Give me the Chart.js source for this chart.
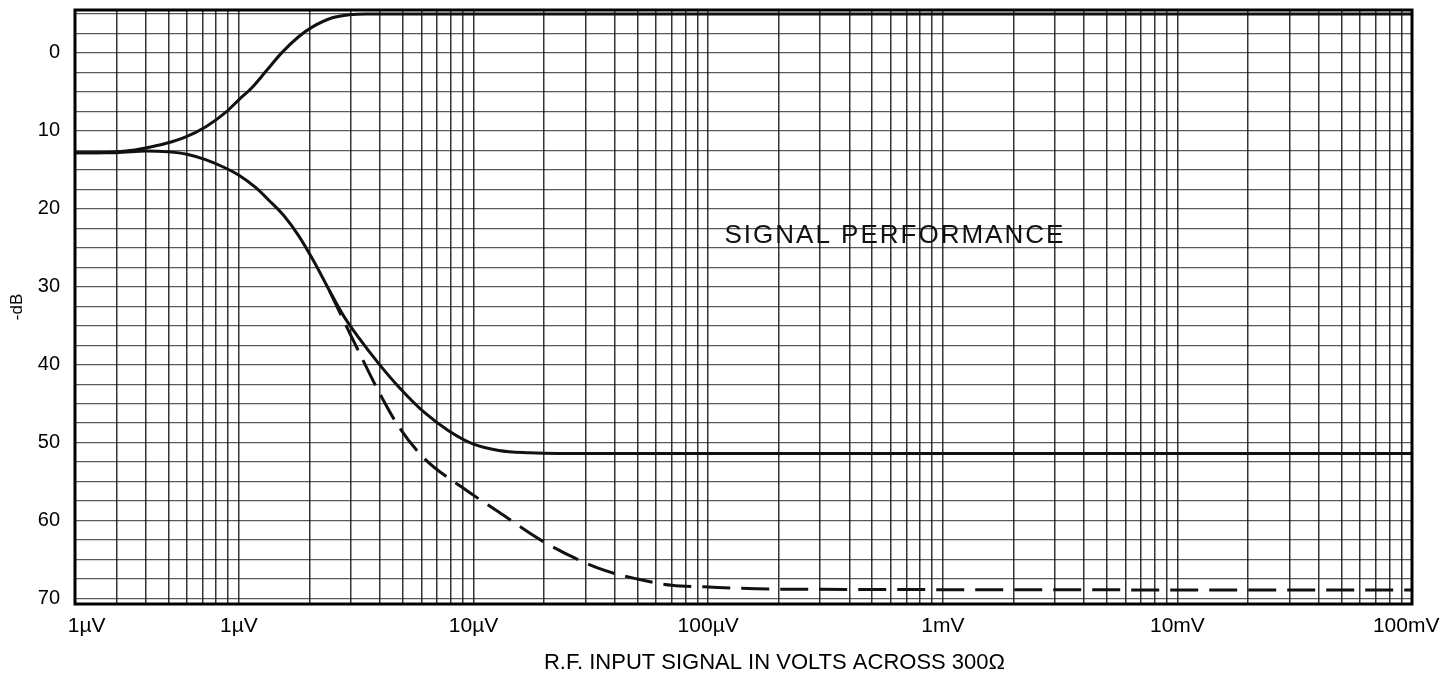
<!DOCTYPE html>
<html>
<head>
<meta charset="utf-8">
<script src="https://cdn.jsdelivr.net/npm/chart.js@4/dist/chart.umd.min.js"></script>
<style>
  html, body { margin: 0; padding: 0; background: #fff; }
  #wrap { width: 1440px; height: 676px; }
</style>
</head>
<body>
<div id="wrap"><canvas id="chart"></canvas></div>
<script>
// x values in µV, y values in -dB
const xTickValues = [0.2, 1, 10, 100, 1000, 10000, 100000];
// the outer labels sit a little inside the frame on the original sheet
const xTickLabels = ['    1µV', '1µV', '10µV', '100µV', '1mV', '10mV', '100mV  '];
const yTickLabels = [0, 10, 20, 30, 40, 50, 60, 70];
const yGridStep = 2.5;

const upperX = [0.2, 0.25, 0.33, 0.4, 0.49, 0.59, 0.72, 0.88, 1.0, 1.14, 1.3, 1.52, 1.8, 2.05, 2.5, 2.95, 3.5, 4.8, 100000];
const upperY = [12.8, 12.8, 12.6, 12.2, 11.6, 10.8, 9.5, 7.6, 6.0, 4.4, 2.4, 0, -2.1, -3.3, -4.5, -4.9, -5.0, -5.0, -5.0];

const solidX = [0.2, 0.3, 0.4, 0.5, 0.6, 0.72, 0.88, 1.0, 1.18, 1.34, 1.555, 1.8, 2.09, 2.42, 2.8, 3.25, 3.95, 4.81, 6.15, 7.85, 10.0, 12.8, 17.2, 23.1, 100000];
const solidY = [12.8, 12.8, 12.6, 12.7, 13.0, 13.7, 14.8, 15.7, 17.3, 18.9, 20.9, 23.5, 26.8, 30.4, 33.8, 36.6, 39.9, 42.9, 46.1, 48.5, 50.2, 51.0, 51.3, 51.4, 51.4];

const dashX = [2.42, 2.8, 3.25, 3.95, 4.81, 6.15, 8.9, 12.8, 19.6, 34, 50, 70, 96, 200, 100000];
const dashY = [30.4, 34.4, 38.4, 43.5, 48.0, 52.0, 55.7, 58.9, 62.6, 66.1, 67.5, 68.3, 68.5, 68.8, 68.9];

const noteText = 'SIGNAL PERFORMANCE';
const noteX = 625;
const noteY = 23.5;

const xAxisTitle = 'R.F. INPUT SIGNAL IN VOLTS ACROSS 300Ω';
const yAxisTitle = '-dB';

const FONT = '"Liberation Sans", Arial, sans-serif';

function pts(xs, ys) {
  return xs.map((x, i) => ({ x: x, y: ys[i] }));
}

// graph-paper lines: 1..9 in every decade
const xGrid = [];
for (let d = 0.1; d < 100000; d *= 10) {
  for (let k = 1; k < 10; k++) {
    const v = +(k * d).toPrecision(3);
    if (v >= 0.2 && v <= 100000) xGrid.push(v);
  }
}
xGrid.push(100000);

const frame = {
  id: 'frame',
  afterDraw(chart) {
    const { ctx, chartArea: a, scales } = chart;
    ctx.save();
    ctx.fillStyle = '#111';
    ctx.textAlign = 'center';
    ctx.textBaseline = 'middle';
    ctx.font = '26px ' + FONT;
    ctx.letterSpacing = '2px';
    ctx.fillText(noteText, scales.x.getPixelForValue(noteX), scales.y.getPixelForValue(noteY));
    ctx.letterSpacing = '0px';
    // axis title, set a little right of centre as on the original sheet
    ctx.fillStyle = '#000';
    ctx.font = '22px ' + FONT;
    ctx.fillText(xAxisTitle, (a.left + a.right) / 2 + 31, chart.height - 13);
    ctx.strokeStyle = '#000';
    ctx.lineWidth = 3;
    ctx.strokeRect(a.left, a.top, a.right - a.left, a.bottom - a.top);
    ctx.restore();
  }
};

const line = { showLine: true, pointRadius: 0, borderColor: '#111', borderWidth: 3, cubicInterpolationMode: 'monotone', fill: false };

new Chart(document.getElementById('chart'), {
  type: 'scatter',
  data: {
    datasets: [
      Object.assign({ label: 'upper', data: pts(upperX, upperY) }, line),
      Object.assign({ label: 'solid', data: pts(solidX, solidY) }, line),
      Object.assign({ label: 'dashed', data: pts(dashX, dashY), borderDash: [28, 11] }, line)
    ]
  },
  options: {
    responsive: true,
    maintainAspectRatio: false,
    animation: false,
    layout: { padding: { top: 10, right: 0, left: 0, bottom: 0 } },
    plugins: { legend: { display: false }, tooltip: { enabled: false } },
    scales: {
      x: {
        type: 'logarithmic',
        min: 0.2,
        max: 100000,
        afterBuildTicks: (s) => { s.ticks = xGrid.map(v => ({ value: v })); },
        afterFit: (s) => { s.height = 72; s.paddingLeft = 0; s.paddingRight = 28; },
        grid: { color: 'rgba(0,0,0,0.8)', lineWidth: 1.5, drawTicks: false },
        border: { display: false },
        ticks: {
          autoSkip: false,
          maxRotation: 0,
          minRotation: 0,
          padding: 10,
          color: '#000',
          font: { family: FONT, size: 21 },
          callback: (v) => {
            const i = xTickValues.findIndex(t => Math.abs(t - v) / t < 1e-6);
            return i >= 0 ? xTickLabels[i] : '';
          }
        }
      },
      y: {
        type: 'linear',
        reverse: true,
        min: -5.5,
        max: 70.7,
        afterBuildTicks: (s) => {
          const t = [];
          for (let v = -5; v <= 70; v += yGridStep) t.push({ value: v });
          s.ticks = t;
        },
        afterFit: (s) => { s.width = 75; s.paddingTop = 0; s.paddingBottom = 0; },
        grid: { color: 'rgba(0,0,0,0.65)', lineWidth: 1.3, drawTicks: false },
        border: { display: false },
        ticks: {
          autoSkip: false,
          padding: 15,
          color: '#000',
          font: { family: FONT, size: 20 },
          callback: (v) => yTickLabels.includes(v) ? String(v) : ''
        },
        title: {
          display: true,
          text: yAxisTitle,
          color: '#000',
          font: { family: FONT, size: 17 },
          padding: { top: 7, bottom: 0 }
        }
      }
    }
  },
  plugins: [frame]
});
</script>
</body>
</html>
